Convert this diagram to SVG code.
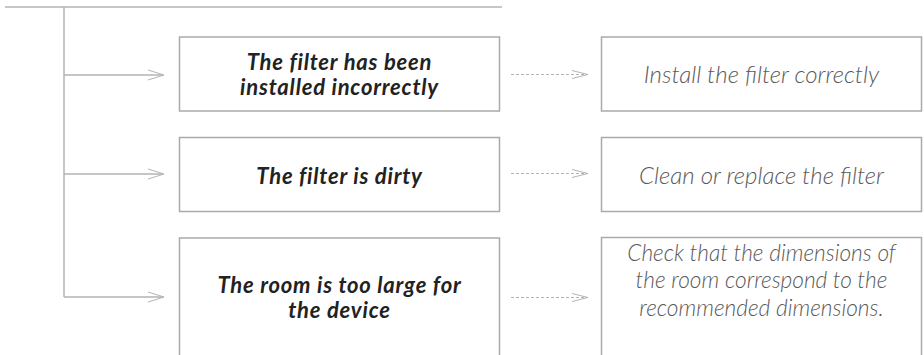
<svg xmlns="http://www.w3.org/2000/svg" width="924" height="355" viewBox="0 0 924 355">
<defs>
<style>
.box{fill:#fff;stroke:#aaaaaa;stroke-width:1.5}
.ln{fill:none;stroke:#b4b4b4;stroke-width:1.5}
.dash{fill:none;stroke:#b4b4b4;stroke-width:1;stroke-dasharray:3 2}
.ah{fill:none;stroke:#b4b4b4;stroke-width:1}
.q{font-family:Lato,"Open Sans","Liberation Sans",sans-serif;font-style:italic;font-weight:700;font-size:22px;letter-spacing:0.8px;fill:#222;text-anchor:middle}
.a{font-family:Lato,"Open Sans","Liberation Sans",sans-serif;font-style:italic;font-weight:300;font-size:24px;fill:#5a5a5a;text-anchor:middle}
.a3{font-size:22.7px}
</style>
</defs>
<g id="connectors">
<path class="ln" d="M5 7H502M64 7V297M64 75H163M64 174H163M64 297H163"/>
<path class="ah" d="M148 70L164 75L148 80M148 169L164 174L148 179M148 292L164 297L148 302"/>
<path class="dash" d="M511 74.5H587M511 173.5H587M511 297.5H587"/>
<path class="ah" d="M572 70.5L588 74.5L572 78.5M572 169.5L588 173.5L572 177.5M572 293.5L588 297.5L572 301.5"/>
</g>
<g id="q1"><rect class="box" x="179.5" y="37" width="320" height="74"/>
<text class="q" x="339.5" y="69.5">The filter has been</text><text class="q" x="339.5" y="94.5">installed incorrectly</text></g>
<g id="q2"><rect class="box" x="179.5" y="137.5" width="320" height="74"/>
<text class="q" x="339.5" y="183.5">The filter is dirty</text></g>
<g id="q3"><path class="box" d="M179.5 356V238H499.5V356"/>
<text class="q" x="339.5" y="293">The room is too large for</text><text class="q" x="339.5" y="317.5">the device</text></g>
<g id="a1"><rect class="box" x="601.5" y="37" width="320" height="74"/>
<text class="a" x="761.5" y="83">Install the filter correctly</text></g>
<g id="a2"><rect class="box" x="601.5" y="137.5" width="320" height="74"/>
<text class="a" x="761.5" y="183.5">Clean or replace the filter</text></g>
<g id="a3"><path class="box" d="M601.5 356V237.5H921.5V356"/>
<text class="a a3" x="761.5" y="260.5">Check that the dimensions of</text><text class="a a3" x="761.5" y="288">the room correspond to the</text><text class="a a3" x="761.5" y="315.5">recommended dimensions.</text></g>
</svg>
